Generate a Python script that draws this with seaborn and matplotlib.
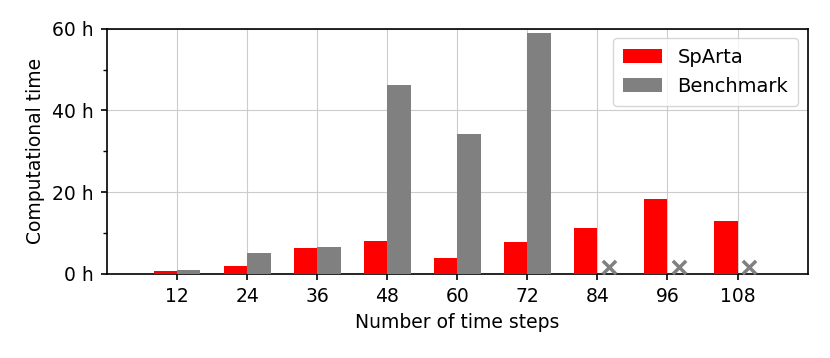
import matplotlib
matplotlib.use("Agg")
import matplotlib.pyplot as plt
from matplotlib.ticker import MultipleLocator, FuncFormatter
import numpy as np
import pandas as pd
import seaborn as sns

steps = [12, 24, 36, 48, 60, 72, 84, 96, 108]
sparta = [0.6, 2.0, 6.3, 8.0, 3.85, 7.8, 11.3, 18.4, 13.0]
benchmark = [1.0, 5.0, 6.6, 46.1, 34.2, 59.0, np.nan, np.nan, np.nan]
failed_steps = [84, 96, 108]
failed_marker_y = [1.6, 1.6, 1.6]

sns.set_style("ticks")
plt.rcParams['font.family'] = ['DejaVu Sans']
plt.rcParams.update({
    "text.color": "black", "axes.labelcolor": "black",
    "xtick.color": "black", "ytick.color": "black",
    "axes.edgecolor": "black",
})

df = pd.DataFrame({
    "steps": steps * 2,
    "time": sparta + benchmark,
    "method": ["SpArta"] * len(steps) + ["Benchmark"] * len(steps),
})

fig, ax = plt.subplots(figsize=(8.3, 3.58), dpi=100)
sns.barplot(data=df, x="steps", y="time", hue="method", native_scale=True,
            palette={"SpArta": "#ff0000", "Benchmark": "#808080"},
            width=8 / 12, dodge=True, saturation=1, ax=ax, zorder=3,
            linewidth=0, edgecolor="none")

sns.scatterplot(x=[s + 2 for s in failed_steps], y=failed_marker_y, marker="x",
                s=90, color="#808080", linewidth=2.5, ax=ax, zorder=4, legend=False)

ax.set_xlim(0, 120)
ax.set_ylim(0, 60)
ax.set_xticks(steps)
ax.set_xticklabels([str(s) for s in steps])
ax.yaxis.set_major_locator(MultipleLocator(20))
ax.yaxis.set_minor_locator(MultipleLocator(10))
ax.yaxis.set_major_formatter(FuncFormatter(lambda v, p: f"{int(v)} h"))
ax.tick_params(axis="both", labelsize=13.5, width=1.2, length=4.5, pad=5,
               color="black", labelcolor="black")
ax.tick_params(axis="y", which="minor", length=3, width=1.0)
ax.grid(True, which="major", color="#cccccc", linewidth=0.8, zorder=0)
ax.set_axisbelow(True)
for sp in ax.spines.values():
    sp.set_visible(True)
    sp.set_color("black")
    sp.set_linewidth(1.2)

ax.set_xlabel("Number of time steps", fontsize=13.5, color="black", labelpad=5)
ax.set_ylabel("Computational time", fontsize=13.5, color="black", labelpad=5)

handles, labels = ax.get_legend_handles_labels()
leg = ax.legend(handles[:2], labels[:2], loc="upper right", fontsize=14,
                framealpha=0.8, handlelength=2.0, handleheight=0.7, fancybox=True,
                borderpad=0.5)
leg.get_frame().set_edgecolor("#cccccc")

fig.subplots_adjust(left=0.129, right=0.973, top=0.92, bottom=0.235)
fig.savefig("out.png", dpi=100)
